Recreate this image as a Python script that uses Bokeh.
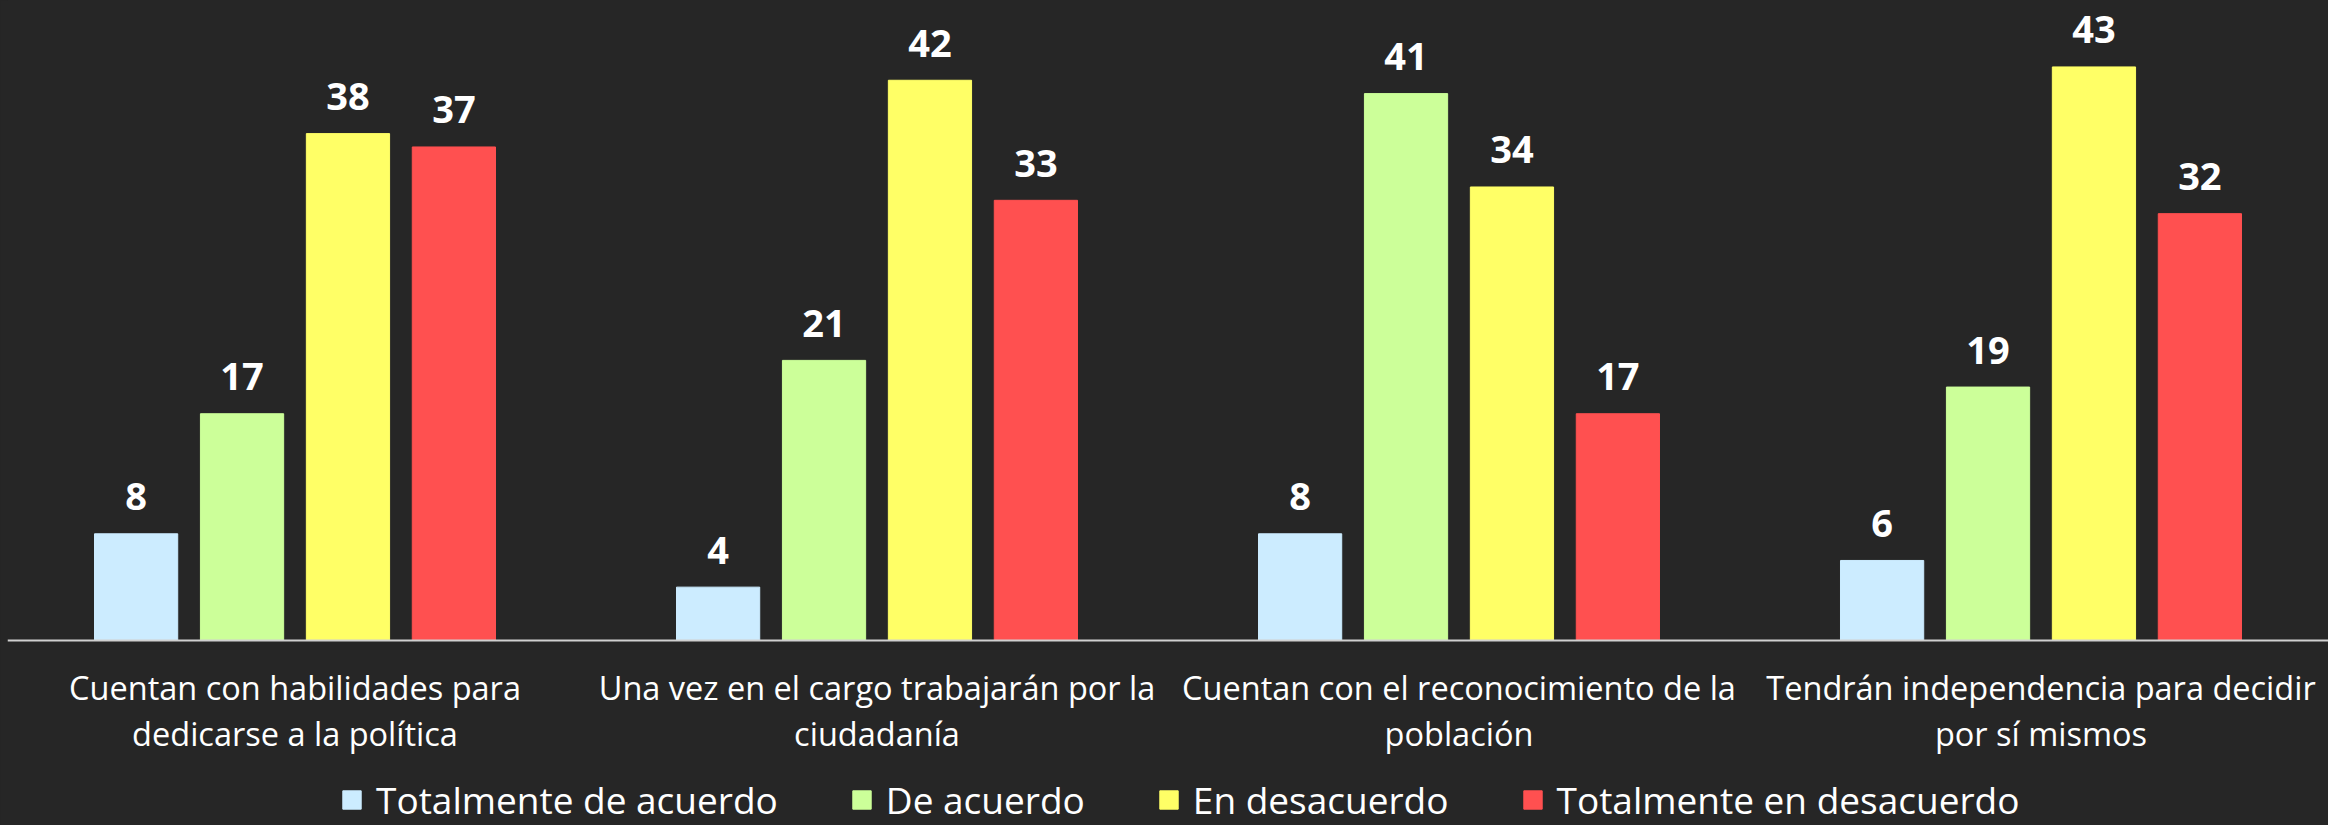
from bokeh.plotting import figure
from bokeh.models import (FactorRange, ColumnDataSource, LabelSet, Legend, LegendItem,
                          Range1d, Span)
from bokeh.core.properties import value
from bokeh.transform import dodge
from bokeh.embed import file_html
from bokeh.resources import INLINE

categories = [
    "Cuentan con habilidades para dedicarse a la política",
    "Una vez en el cargo trabajarán por la ciudadanía",
    "Cuentan con el reconocimiento de la población",
    "Tendrán independencia para decidir por sí mismos",
]
label_line1 = [
    "Cuentan con habilidades para",
    "Una vez en el cargo trabajarán por la",
    "Cuentan con el reconocimiento de la",
    "Tendrán independencia para decidir",
]
label_line2 = [
    "dedicarse a la política",
    "ciudadanía",
    "población",
    "por sí mismos",
]
series_names = ["Totalmente de acuerdo", "De acuerdo", "En desacuerdo", "Totalmente en desacuerdo"]
totalmente_de_acuerdo = [8, 4, 8, 6]
de_acuerdo = [17, 21, 41, 19]
en_desacuerdo = [38, 42, 34, 43]
totalmente_en_desacuerdo = [37, 33, 17, 32]
series_values = [totalmente_de_acuerdo, de_acuerdo, en_desacuerdo, totalmente_en_desacuerdo]
colors = ["#CCECFF", "#CCFF99", "#FFFF66", "#FF5050"]

BG = "#262626"
FONT = "Open Sans"

p = figure(
    x_range=FactorRange(*categories, range_padding=-0.006, range_padding_units="absolute"),
    y_range=Range1d(-13.87, 47.98),
    width=2328, height=825,
    output_backend="svg", toolbar_location=None,
    background_fill_color=BG, border_fill_color=BG,
    min_border_left=7, min_border_right=0, min_border_top=0, min_border_bottom=0,
)
p.outline_line_color = None
p.xgrid.visible = False
p.ygrid.visible = False
p.xaxis.visible = False
p.yaxis.visible = False

# baseline (value 0)
p.add_layout(Span(location=0, dimension="width", line_color="#D0D0D0", line_width=2))

offsets = [-0.273, -0.091, 0.091, 0.273]
bar_w = 0.143

data = {"cat": categories, "l1": label_line1, "l2": label_line2,
        "y1": [-3.52] * len(categories), "y2": [-6.97] * len(categories)}
for i, vals in enumerate(series_values):
    data[f"s{i}"] = vals
    data[f"t{i}"] = [str(v) for v in vals]
src = ColumnDataSource(data)

items = []
for i, name in enumerate(series_names):
    r = p.vbar(x=dodge("cat", offsets[i], range=p.x_range), top=f"s{i}", width=bar_w,
               source=src, fill_color=colors[i], line_color=colors[i])
    items.append(LegendItem(label=name, renderers=[r]))
    lbl = LabelSet(x=dodge("cat", offsets[i], range=p.x_range), y=f"s{i}", text=f"t{i}",
                   source=src, text_align="center", text_baseline="middle", y_offset=37,
                   text_font=value(FONT), text_font_style="bold", text_font_size="38px",
                   text_color="#FFFFFF")
    p.add_layout(lbl)

# category labels (two lines each)
for col, ycol in (("l1", "y1"), ("l2", "y2")):
    p.text(x="cat", y=ycol, text=col, source=src, text_align="center",
           text_baseline="middle", text_font=value(FONT), text_font_size="32.5px",
           text_color="#FFFFFF")

legend = Legend(items=items, orientation="horizontal", location=(333, 0))
legend.label_text_font = FONT
legend.label_text_font_size = "37px"
legend.label_text_color = "#FFFFFF"
legend.background_fill_alpha = 0
legend.border_line_color = None
legend.glyph_width = 23
legend.glyph_height = 23
legend.label_standoff = 13
legend.spacing = 72
legend.padding = 0
legend.margin = 0
p.add_layout(legend, "center")

html = file_html(p, INLINE).replace("</head>", "<style>body{background-color:#262626;}</style></head>")
open("out.html", "w").write(html)
